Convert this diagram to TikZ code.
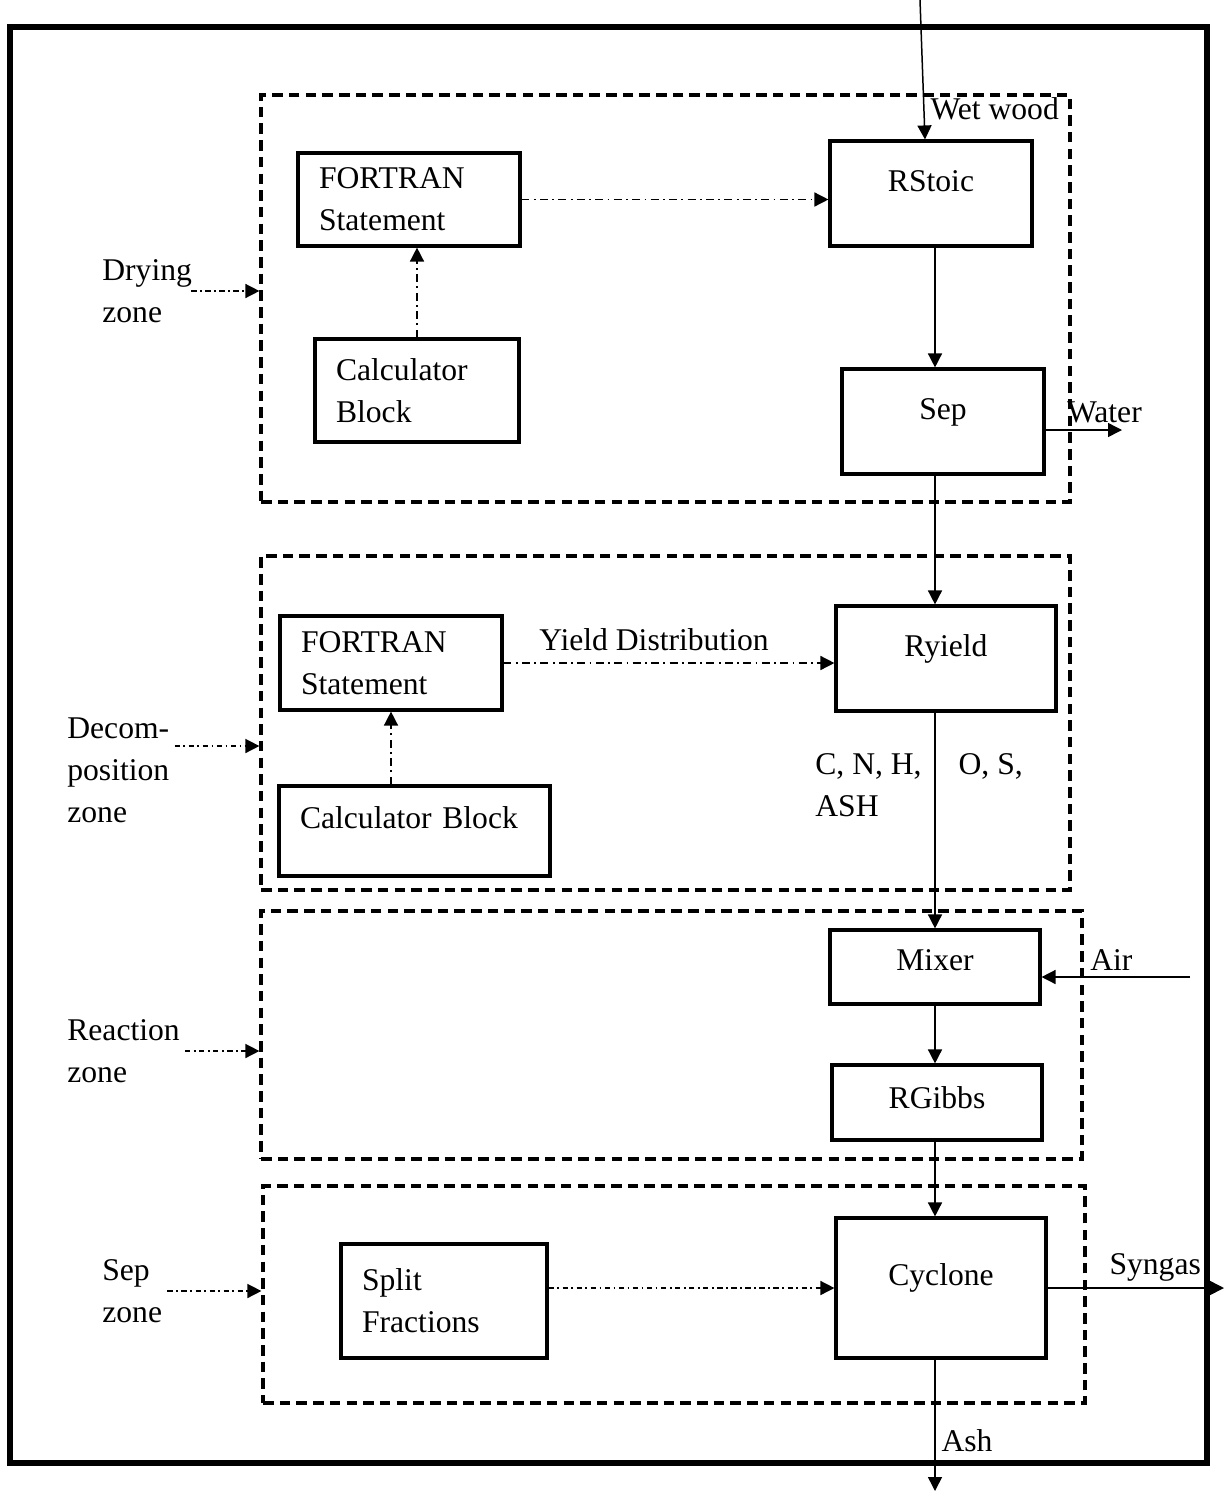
\documentclass[tikz,border=0pt]{standalone}
\usepackage{fontspec}
\setmainfont{Liberation Serif}
\usepackage{tikz}
\usetikzlibrary{arrows.meta,positioning}
\tikzset{blk/.style={draw,line width=1.8pt,text height=0.45cm,text depth=0.55cm,inner sep=0pt},
lblk/.style={draw,line width=1.8pt,align=left,inner xsep=0.42cm,inner ysep=0pt},
zone/.style={draw,line width=1.9pt,dash pattern=on 6pt off 3.5pt,inner sep=0pt},
lbl/.style={align=left,inner sep=0.1cm},
flow/.style={->,line width=0.85pt},
info/.style={->,line width=0.85pt,dash pattern=on 4.5pt off 2.5pt on 1pt off 2.5pt},
zonearr/.style={->,line width=0.85pt,dash pattern=on 3pt off 2pt on 1pt off 2pt}}

\begin{document}
\begin{tikzpicture}[x=0.02cm,y=-0.02cm,>={Triangle[length=0.28cm,width=0.28cm]},font=\fontsize{18pt}{24pt}\selectfont]
        \useasboundingbox (0,0) rectangle (1224,1491);
        \draw[line width=3.4pt] (10,27) rectangle (1207,1463);

        \node[zone,minimum width=16.18cm,minimum height=8.14cm] (dryzone) at (665.5,298.5) {};
        \node[zone,minimum width=16.18cm,minimum height=6.68cm] (decozone) at (665.5,723) {};
        \node[zone,minimum width=16.42cm,minimum height=4.96cm] (reaczone) at (671.5,1035) {};
        \node[zone,minimum width=16.44cm,minimum height=4.34cm] (sepzone) at (674,1294.5) {};

        \node[lblk,minimum width=4.44cm,minimum height=1.86cm,text width=3.6cm] (fort1) at (409,199.5) {FORTRAN\\Statement};
        \node[lblk,minimum width=4.08cm,minimum height=2.06cm,text width=3.24cm] (calc1) at (417,390.5) {Calculator\\Block};
        \node[blk,minimum width=4.04cm,minimum height=2.1cm] (rstoic) at (931,193.5) {RStoic};
        \node[blk,minimum width=4.04cm,minimum height=2.1cm] (sep) at (943,421.5) {Sep};
        \node[lblk,minimum width=4.44cm,minimum height=1.88cm,text width=3.6cm] (fort2) at (391,663) {FORTRAN\\Statement};
        \node[lblk,minimum width=5.42cm,minimum height=1.8cm,text width=4.58cm,text height=0.45cm,text depth=0.55cm] (calc2) at (414.5,831) {Calculator Block};
        \node[blk,minimum width=4.4cm,minimum height=2.1cm] (ryield) at (946,658.5) {Ryield};
        \node[blk,minimum width=4.2cm,minimum height=1.48cm,text depth=0.31cm] (mixer) at (935,967) {Mixer};
        \node[blk,minimum width=4.2cm,minimum height=1.5cm,text depth=0.23cm] (rgibbs) at (937,1102.5) {RGibbs};
        \node[lblk,minimum width=4.12cm,minimum height=2.28cm,text width=3.28cm] (split) at (444,1301) {Split\\Fractions};
        \node[blk,minimum width=4.2cm,minimum height=2.8cm] (cyclone) at (941,1288) {Cyclone};

        \node[lbl,anchor=west] (drylbl) at (97,291) {Drying\\zone};
        \node[lbl,anchor=west] (decolbl) at (62,770) {Decom-\\position\\zone};
        \node[lbl,anchor=west] (reaclbl) at (62,1051) {Reaction\\zone};
        \node[lbl,anchor=west] (seplbl) at (97,1291) {Sep\\zone};
        \node[lbl,anchor=west] (elems) at (810,785) {C, N, H,\hspace{1.17em}O, S,\\ASH};

        \coordinate (decoarr) at ([yshift=0.48cm]decolbl.east);
        \draw[zonearr] ([xshift=-0.12cm]drylbl.east) -- (drylbl.east -| dryzone.west);
        \draw[zonearr] (decoarr) -- (decoarr -| decozone.west);
        \draw[zonearr] (reaclbl.east) -- (reaclbl.east -| reaczone.west);
        \draw[zonearr] (seplbl.east) -- (seplbl.east -| sepzone.west);

        \coordinate (wetin) at (920,0);
        \coordinate (waterout) at (1122,430);
        \coordinate (airin) at (1190,977);
        \coordinate (synout) at (1224,1288);
        \coordinate (ashout) at (935,1491);
        \draw[flow] (wetin) -- node[pos=0.78,right]{Wet wood} ([xshift=-0.12cm]rstoic.north);
        \draw[flow] (rstoic.south -| mixer) -- (sep.north -| mixer);
        \draw[flow] (sep.east |- waterout) -- node[pos=0.77,above]{Water} (waterout);
        \draw[flow] (sep.south -| mixer) -- (ryield.north -| mixer);
        \draw[flow] (ryield.south -| mixer) -- (mixer.north);
        \draw[flow] (airin) -- node[pos=0.53,above]{Air} (mixer.east |- airin);
        \draw[flow] (mixer.south) -- (rgibbs.north -| mixer);
        \draw[flow] (rgibbs.south -| mixer) -- (cyclone.north -| mixer);
        \draw[flow] (cyclone.east) -- node[pos=0.61,above]{Syngas} (synout);
        \draw[flow] (cyclone.south -| mixer) -- node[pos=0.62,right]{Ash} (ashout);

        \draw[info] (fort1.east) -- (fort1.east -| rstoic.west);
        \draw[info] (calc1.north) -- (calc1.north |- fort1.south);
        \draw[info] (fort2.east) -- node[pos=0.455,above=0.12cm]{Yield Distribution} (fort2.east -| ryield.west);
        \draw[info] (fort2.south |- calc2.north) -- (fort2.south);
        \draw[zonearr] (cyclone.west -| split.east) -- (cyclone.west);
    \end{tikzpicture}
\end{document}
